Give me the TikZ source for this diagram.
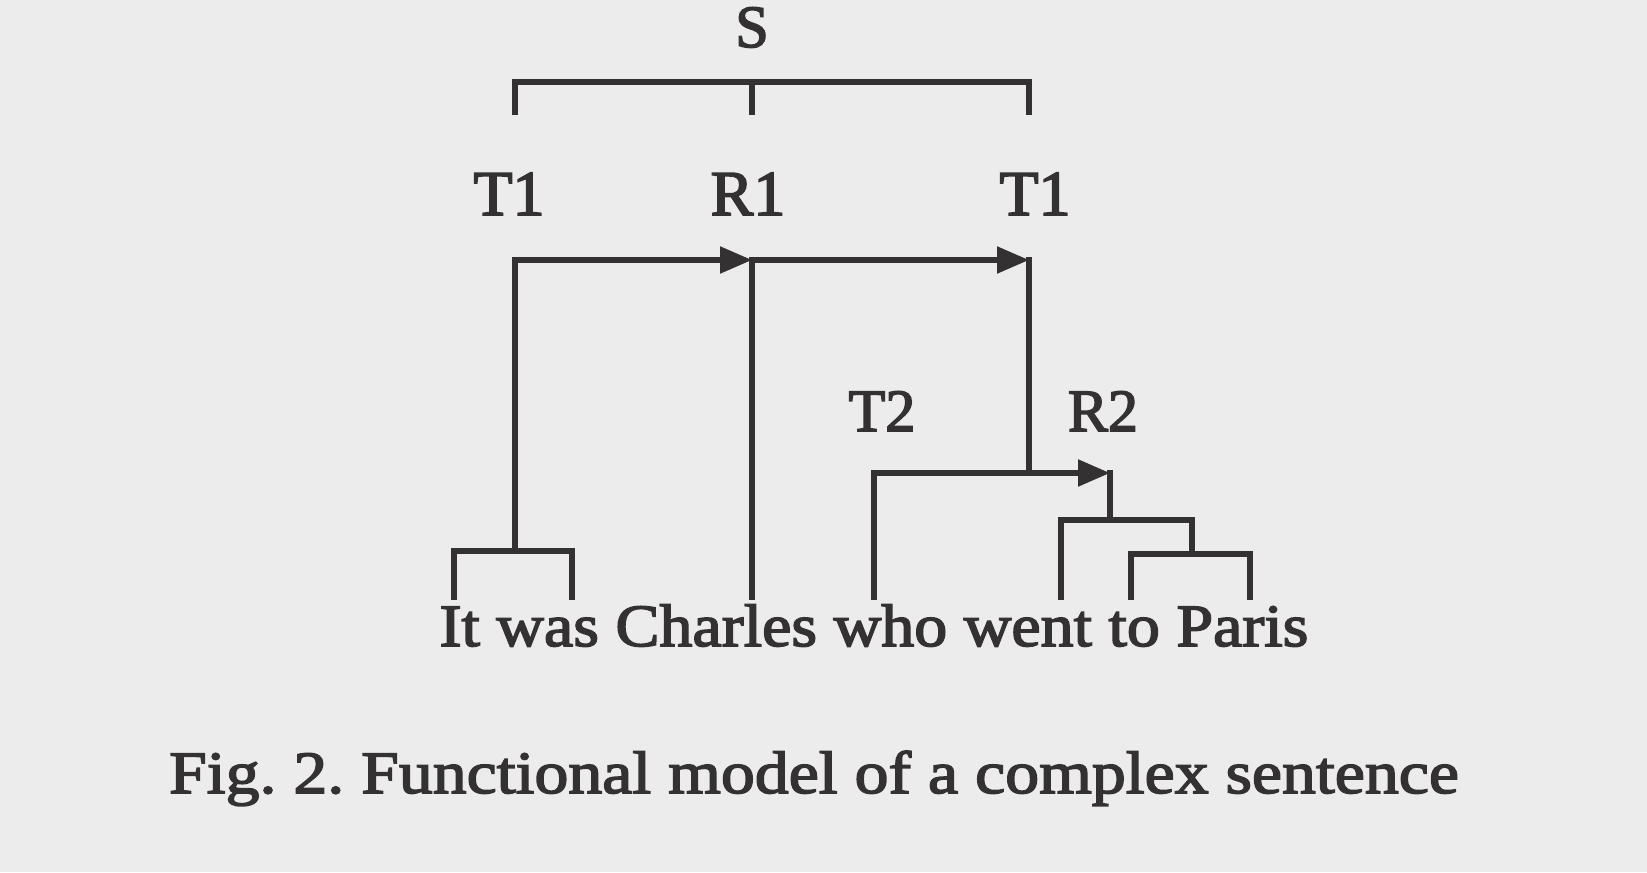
\documentclass[tikz,border=0pt]{standalone}
\usepackage{fontspec}
\setmainfont{Liberation Serif}[FakeBold=2.6]
\newfontfamily\linefont{Liberation Serif}[FakeBold=2.6,FakeStretch=1.1]
\newfontfamily\captionfont{Liberation Serif}[FakeBold=2.6,FakeStretch=1.13]
\usetikzlibrary{arrows.meta}
\definecolor{scanpaper}{HTML}{ECECEC}
\definecolor{scanink}{HTML}{333131}

\begin{document}
\frenchspacing
\begin{tikzpicture}[
  x=0.5pt,
  y=-0.5pt,
  line join=miter,
  line cap=rect,
  branch/.style={draw=scanink,line width=2.7pt},
  flow/.style={draw=scanink,line width=2.7pt,-{Triangle[length=16pt,width=13pt]}},
  unit/.style={text=scanink,inner sep=0pt,anchor=base,font=\fontsize{32}{38}\selectfont},
  subunit/.style={text=scanink,inner sep=0pt,anchor=base,font=\fontsize{30}{36}\selectfont},
  sentence/.style={text=scanink,inner sep=0pt,anchor=base,font=\linefont\fontsize{30}{36}\selectfont},
  figcaption/.style={text=scanink,inner sep=0pt,anchor=base,font=\captionfont\fontsize{30}{36}\selectfont}
]
  % Page of the scan, fixed to the reference size.
  \fill[scanpaper] (0,0) rectangle (1647,872);
  \useasboundingbox (0,0) rectangle (1647,872);

  % Sentence and its theme/rheme labels.
  \node[subunit] (S) at (752,47) {S};
  \node[unit] (T1a) at (509,215) {T1};
  \node[unit] (R1) at (748,215) {R1};
  \node[unit] (T1b) at (1035,215) {T1};
  \node[subunit] (T2) at (882,431) {T2};
  \node[subunit] (R2) at (1103,431) {R2};

  % Bracket under S.
  \coordinate (sL) at (515,82);
  \coordinate (sM) at (752,82);
  \coordinate (sR) at (1029,82);
  \draw[branch] (515,112) -- (sL) -- (sR) -- (1029,112);
  \draw[branch] (sM) -- (752,112);

  % First-level theme-rheme chain.
  \coordinate (aT1) at (515,260);
  \coordinate (aR1) at (752,260);
  \coordinate (aT1b) at (1029,260);
  \draw[flow] (aT1) -- (aR1);
  \draw[flow] (aR1) -- (aT1b);

  % "It was" bracket.
  \coordinate (itTop) at (515,551);
  \draw[branch] (aT1) -- (itTop);
  \draw[branch] (454,597) -- (454,551) -- (572,551) -- (572,597);

  % "Charles" stem.
  \draw[branch] (aR1) -- (752,597);

  % Second-level theme-rheme chain.
  \coordinate (aT2) at (874,473);
  \coordinate (aJoin) at (1029,473);
  \coordinate (aR2) at (1110,473);
  \draw[branch] (aT1b) -- (aJoin);
  \draw[branch] (874,597) -- (aT2);
  \draw[flow] (aT2) -- (aR2);

  % "went to Paris" brackets.
  \coordinate (wTop) at (1110,520);
  \coordinate (pTop) at (1192,554);
  \draw[branch] (aR2) -- (wTop);
  \draw[branch] (1061,597) -- (1061,520) -- (1192,520) -- (pTop);
  \draw[branch] (1131,597) -- (1131,554) -- (1250,554) -- (1250,597);

  % Text lines.
  \node[sentence] (line) at (874,646) {It was Charles who went to Paris};
  \node[figcaption] (caption) at (814,793) {Fig. 2. Functional model of a complex sentence};
\end{tikzpicture}
\end{document}
